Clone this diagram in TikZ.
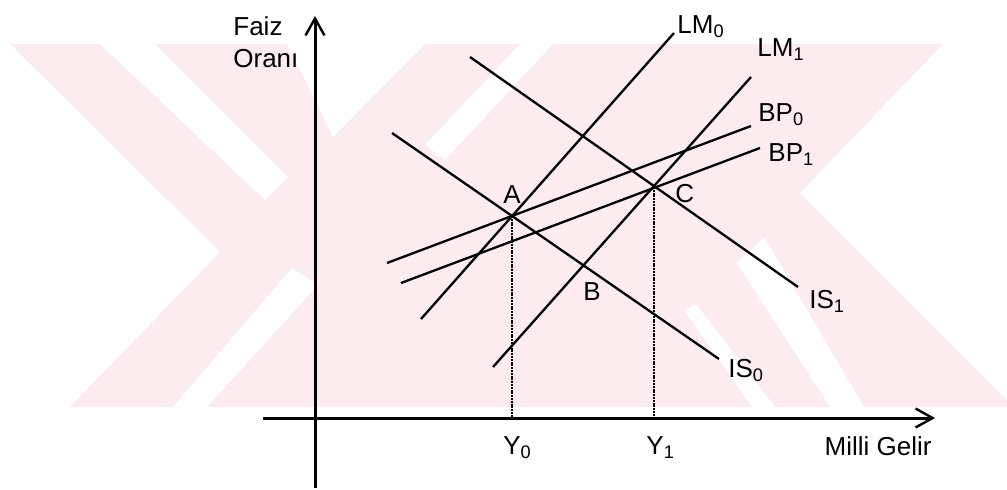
\documentclass[tikz,border=0pt]{standalone}
\usepackage{fontspec}
\setmainfont{Liberation Sans}
\usetikzlibrary{arrows.meta}
\definecolor{wmPink}{HTML}{FDECEF}
\tikzset{
  axis line/.style={line width=1.5pt,
    -{Straight Barb[length=8.5pt, width=9.5pt, line width=1.2pt]}},
  curve line/.style={line width=1.15pt},
  drop line/.style={line width=1.3pt, dash pattern=on 1pt off 0.4pt},
  curve label/.style={font=\fontsize{13}{15}\selectfont, inner sep=0pt,
    anchor=base west},
  watermark/.style={fill=wmPink, draw=none},
  cutout/.style={fill=white, draw=none}
}

\begin{document}
\begin{tikzpicture}[x=0.5pt, y=-0.5pt]
  \useasboundingbox (0,0) rectangle (1007,489);
  % watermark in the background
  \fill[watermark] (10,44) -- (943,44) -- (800,193) -- (1007,400)
    -- (1007,407) -- (70,407) -- (220,252) -- cycle;
  \fill[cutout] (100,44) -- (155,44) -- (288,177) -- (265,200) -- cycle;
  \fill[cutout] (173,407) -- (207,407) -- (318,285) -- (292,268) -- cycle;
  \fill[cutout] (287,44) -- (333,137) -- (425,44) -- cycle;
  \fill[cutout] (520,44) -- (553,44) -- (445,160) -- (425,145) -- cycle;
  \fill[cutout] (737,263) -- (764,237) -- (864,407) -- (830,407) -- cycle;
  \fill[cutout] (684,310) -- (696,304) -- (775,407) -- (752,407) -- cycle;

  % axes
  \coordinate (ybot) at (315,488);
  \coordinate (ytop) at (315,16);
  \coordinate (xleft) at (263,418);
  \coordinate (xright) at (935,418);
  \draw[axis line] (ybot) -- (ytop);
  \draw[axis line] (xleft) -- (xright);
  \node[curve label] (faiz) at (233,35) {Faiz};
  \node[curve label] (orani) at (233,67) {Oranı};
  \node[curve label, anchor=base east] (gelir) at (932,455) {Milli Gelir};

  % equilibrium points
  \coordinate (A) at (512,216);
  \coordinate (B) at (583,265);
  \coordinate (C) at (654,187);

  % curve ends
  \coordinate (lm0a) at (421,319);
  \coordinate (lm0b) at (674,33);
  \coordinate (lm1a) at (493,367);
  \coordinate (lm1b) at (751,77);
  \coordinate (is0a) at (392,133);
  \coordinate (is0b) at (719,359);
  \coordinate (is1a) at (470,57);
  \coordinate (is1b) at (798,287);
  \coordinate (bp0a) at (387,263);
  \coordinate (bp0b) at (751,126);
  \coordinate (bp1a) at (401,283);
  \coordinate (bp1b) at (760,148);

  \draw[curve line] (lm0a) -- (lm0b);
  \draw[curve line] (lm1a) -- (lm1b);
  \draw[curve line] (is0a) -- (is0b);
  \draw[curve line] (is1a) -- (is1b);
  \draw[curve line] (bp0a) -- (bp0b);
  \draw[curve line] (bp1a) -- (bp1b);

  \draw[drop line] (A) -- (A |- xleft);
  \draw[drop line] (C) -- (C |- xleft);

  % labels
  \node[curve label] (lm0) at (677,33) {LM\textsubscript{0}};
  \node[curve label] (lm1) at (757,56) {LM\textsubscript{1}};
  \node[curve label] (bp0) at (758,121) {BP\textsubscript{0}};
  \node[curve label] (bp1) at (768,161) {BP\textsubscript{1}};
  \node[curve label] (is1) at (809,308) {IS\textsubscript{1}};
  \node[curve label] (is0) at (728,377) {IS\textsubscript{0}};
  \node[curve label] (a) at (503,203) {A};
  \node[curve label] (b) at (583,300) {B};
  \node[curve label] (c) at (675,202) {C};
  \node[curve label] (y0) at (503,454) {Y\textsubscript{0}};
  \node[curve label] (y1) at (646,454) {Y\textsubscript{1}};
\end{tikzpicture}
\end{document}
